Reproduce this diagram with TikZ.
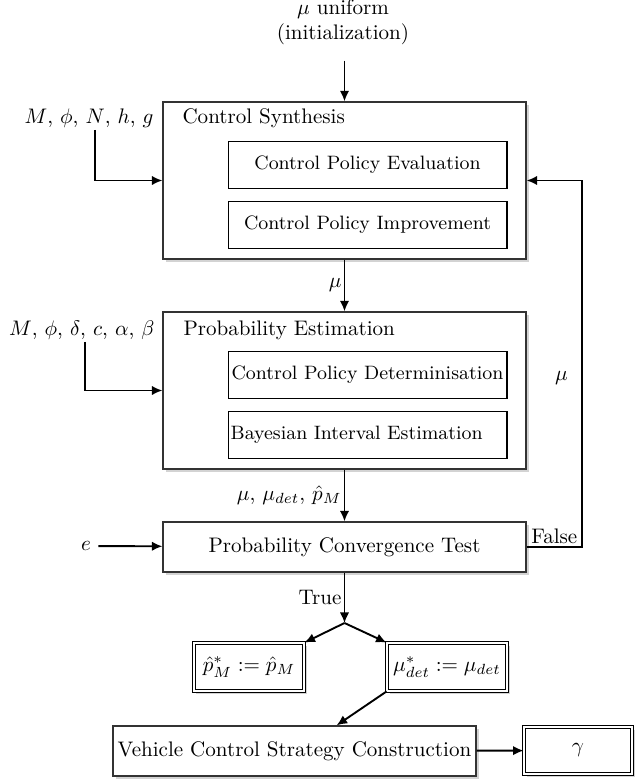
\documentclass[tikz,border=0pt]{standalone}
\usepackage{amsmath}
\usetikzlibrary{shadows,arrows.meta}
\newcommand{\pxu}{0.475pt}

\begin{document}
\begin{tikzpicture}[x=\pxu,y=-\pxu,every node/.style={align=center},
    outer/.style={draw=black!80,line width=0.6pt,fill=white,minimum width=172.4pt,inner sep=1pt,
      drop shadow={shadow xshift=1.2pt,shadow yshift=-1.5pt,opacity=0.35}},
    inner/.style={draw,line width=0.5pt,minimum width=132.5pt,minimum height=21.9pt,inner xsep=1.5pt,
      font=\fontsize{9.2}{11}\selectfont},
    result/.style={draw,double,double distance=1pt,line width=0.4pt,fill=white,minimum height=22.8pt,inner sep=1pt,
      drop shadow={shadow xshift=1.2pt,shadow yshift=-1.5pt,opacity=0.35}},
    lbl/.style={inner sep=1pt},
    arr/.style={-{Latex[length=5pt,width=4.5pt]},line width=0.9pt}]
  \useasboundingbox (0,0) rectangle (634,783);

  % initial policy
  \node (init) at (343,22) {$\mu$ uniform\\(initialization)};

  % control synthesis
  \node[outer,minimum height=74.6pt] (cs) at (344.5,180.5) {};
  \node[lbl,anchor=west] (cstitle) at (180,118) {Control Synthesis};
  \node[inner] (cpe) at (367.5,165) {Control Policy Evaluation};
  \node[inner] (cpi) at (367.5,225) {Control Policy Improvement};
  \node[lbl,anchor=east] (csin) at (156,118) {$M$, $\phi$, $N$, $h$, $g$};

  % probability estimation
  \node[outer,minimum height=74.6pt] (pe) at (344.5,390.5) {};
  \node[lbl,anchor=west] (petitle) at (181,330) {Probability Estimation};
  \node[inner] (cpd) at (367.5,375) {Control Policy Determinisation};
  \node[inner,inner xsep=1pt,text width=130pt,align=left] (bie) at (367.5,435) {Bayesian Interval Estimation};
  \node[lbl,anchor=east] (pein) at (157,330) {$M$, $\phi$, $\delta$, $c$, $\alpha$, $\beta$};

  % convergence test
  \node[outer,minimum height=23.75pt] (test) at (344.5,547) {Probability Convergence Test};
  \node (e) at (86,546) {$e$};
  \coordinate (fb) at (582,547);
  \coordinate (split) at (344.5,623);

  % results
  \node[result,minimum width=52.3pt] (phat) at (249,667) {$\hat{p}^*_M := \hat{p}_M$};
  \node[result,minimum width=57pt] (mudet) at (447,667) {$\mu^*_{det} := \mu_{det}$};
  \node[outer,minimum height=23.75pt] (vcsc) at (294.5,751) {Vehicle Control Strategy Construction};
  \node[result,minimum width=51.3pt,minimum height=22.3pt] (gamma) at (578,750.5) {$\gamma$};

  % connectors
  \draw[arr] ([yshift=-4pt]init.south -| cs.north) -- (cs.north);
  \draw[arr] ([xshift=3pt]csin.south) |- (cs.west);
  \draw[arr] ([xshift=1.5pt]pein.south) |- (pe.west);
  \draw[arr] (cs) -- node[lbl,left] {$\mu$} (pe);
  \draw[arr] (pe) -- node[lbl,left] {$\mu$, $\mu_{det}$, $\hat{p}_M$} (test);
  \draw[arr] (e) -- (test);
  \draw[arr] (test.east) -- node[lbl,above] {False} (fb) |- node[pos=0.23,left=3pt] {$\mu$} (cs.east);
  \draw[arr] (test) -- node[lbl,left] {True} (split);
  \draw[arr] (split) -- (phat.north east);
  \draw[arr] (split) -- (mudet.north west);
  \draw[arr] (mudet.south west) -- ([xshift=20pt]vcsc.north);
  \draw[arr] (vcsc) -- (gamma);
\end{tikzpicture}
\end{document}
